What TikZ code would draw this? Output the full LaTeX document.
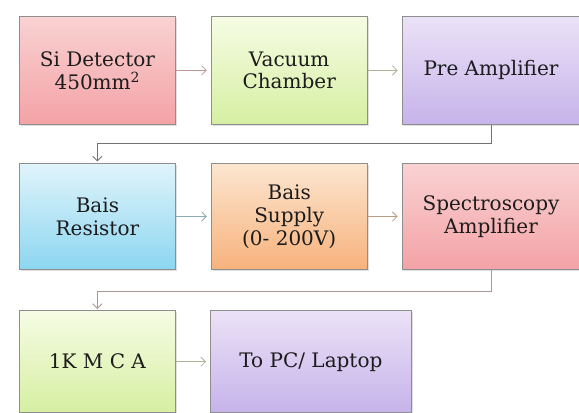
\documentclass[tikz,border=0pt]{standalone}
\usepackage{fontspec}
\setmainfont{DejaVu Serif}
\usepackage{tikz}
\usetikzlibrary{arrows.meta,positioning,shadows,calc}

\definecolor{txtC}{HTML}{1C1C1C}
\definecolor{edgeC}{HTML}{8E8E8E}
\definecolor{redT}{HTML}{F9D2D2}
\definecolor{redB}{HTML}{F4A2A6}
\definecolor{grnT}{HTML}{F6FCE4}
\definecolor{grnB}{HTML}{D6EFA2}
\definecolor{purT}{HTML}{EBE2F7}
\definecolor{purB}{HTML}{C6B3EA}
\definecolor{bluT}{HTML}{E0F4FB}
\definecolor{bluB}{HTML}{8CD6F0}
\definecolor{ornT}{HTML}{FCE6D0}
\definecolor{ornB}{HTML}{F7B27C}

\tikzset{
  blk/.style={draw=edgeC, line width=0.6pt, rectangle, align=center,
    text=txtC, font=\fontsize{15}{17}\selectfont, inner sep=2pt,
    minimum width=117pt, minimum height=81pt,
    drop shadow={opacity=0.25, shadow xshift=1pt, shadow yshift=-1pt}},
  redblk/.style={blk, top color=redT, bottom color=redB},
  grnblk/.style={blk, top color=grnT, bottom color=grnB},
  purblk/.style={blk, top color=purT, bottom color=purB},
  blublk/.style={blk, top color=bluT, bottom color=bluB},
  ornblk/.style={blk, top color=ornT, bottom color=ornB},
  link/.style={line width=0.6pt, -{Straight Barb[length=3.5pt,width=7pt]}, shorten >=3pt}
}

\begin{document}
\begin{tikzpicture}
  \useasboundingbox (0,0) rectangle (434.25pt,-309pt);

  % --- first row
  \node[redblk, anchor=north west] (det) at (14.25pt,-12pt) {Si Detector\\450mm\textsuperscript{2}};
  \node[grnblk, right=26.25pt of det] (vac) {Vacuum\\Chamber};
  \node[purblk, minimum width=133.5pt, right=25.5pt of vac] (pre) {Pre Amplifier};

  % --- second row
  \node[blublk, minimum height=80pt, below=28.5pt of det] (res) {Bais\\Resistor};
  \node[ornblk, minimum height=80pt, right=26.25pt of res] (sup) {Bais\\Supply\\(0- 200V)};
  \node[redblk, minimum height=80pt, minimum width=133.5pt, right=25.5pt of sup] (spec) {Spectroscopy\\Amplifier};

  % --- third row
  \node[grnblk, minimum height=76.5pt, below=30pt of res] (mca) {1K M C A};
  \node[purblk, minimum height=76.5pt, minimum width=150.75pt, anchor=west]
    (pc) at ($(mca.west)+(143.25pt,0)$) {To PC/ Laptop};

  % --- arrows along the rows
  \draw[link, color=redB!45!edgeC] (det) -- (vac);
  \draw[link, color=grnB!40!edgeC] (vac) -- (pre);
  \draw[link, color=bluB!40!edgeC] (res) -- (sup);
  \draw[link, color=ornB!40!edgeC] (sup) -- (spec);
  \draw[link, color=grnB!40!edgeC] (mca) -- (pc.west |- mca);

  % --- arrows back to the next row
  \draw[link, color=edgeC!80!black, shorten >=1pt] (pre.south) -- ++(0,-14.25pt) -| (res.north);
  \draw[link, color=redB!30!edgeC, shorten >=1pt] (spec.south) -- ++(0,-15.75pt) -| (mca.north);
\end{tikzpicture}
\end{document}
